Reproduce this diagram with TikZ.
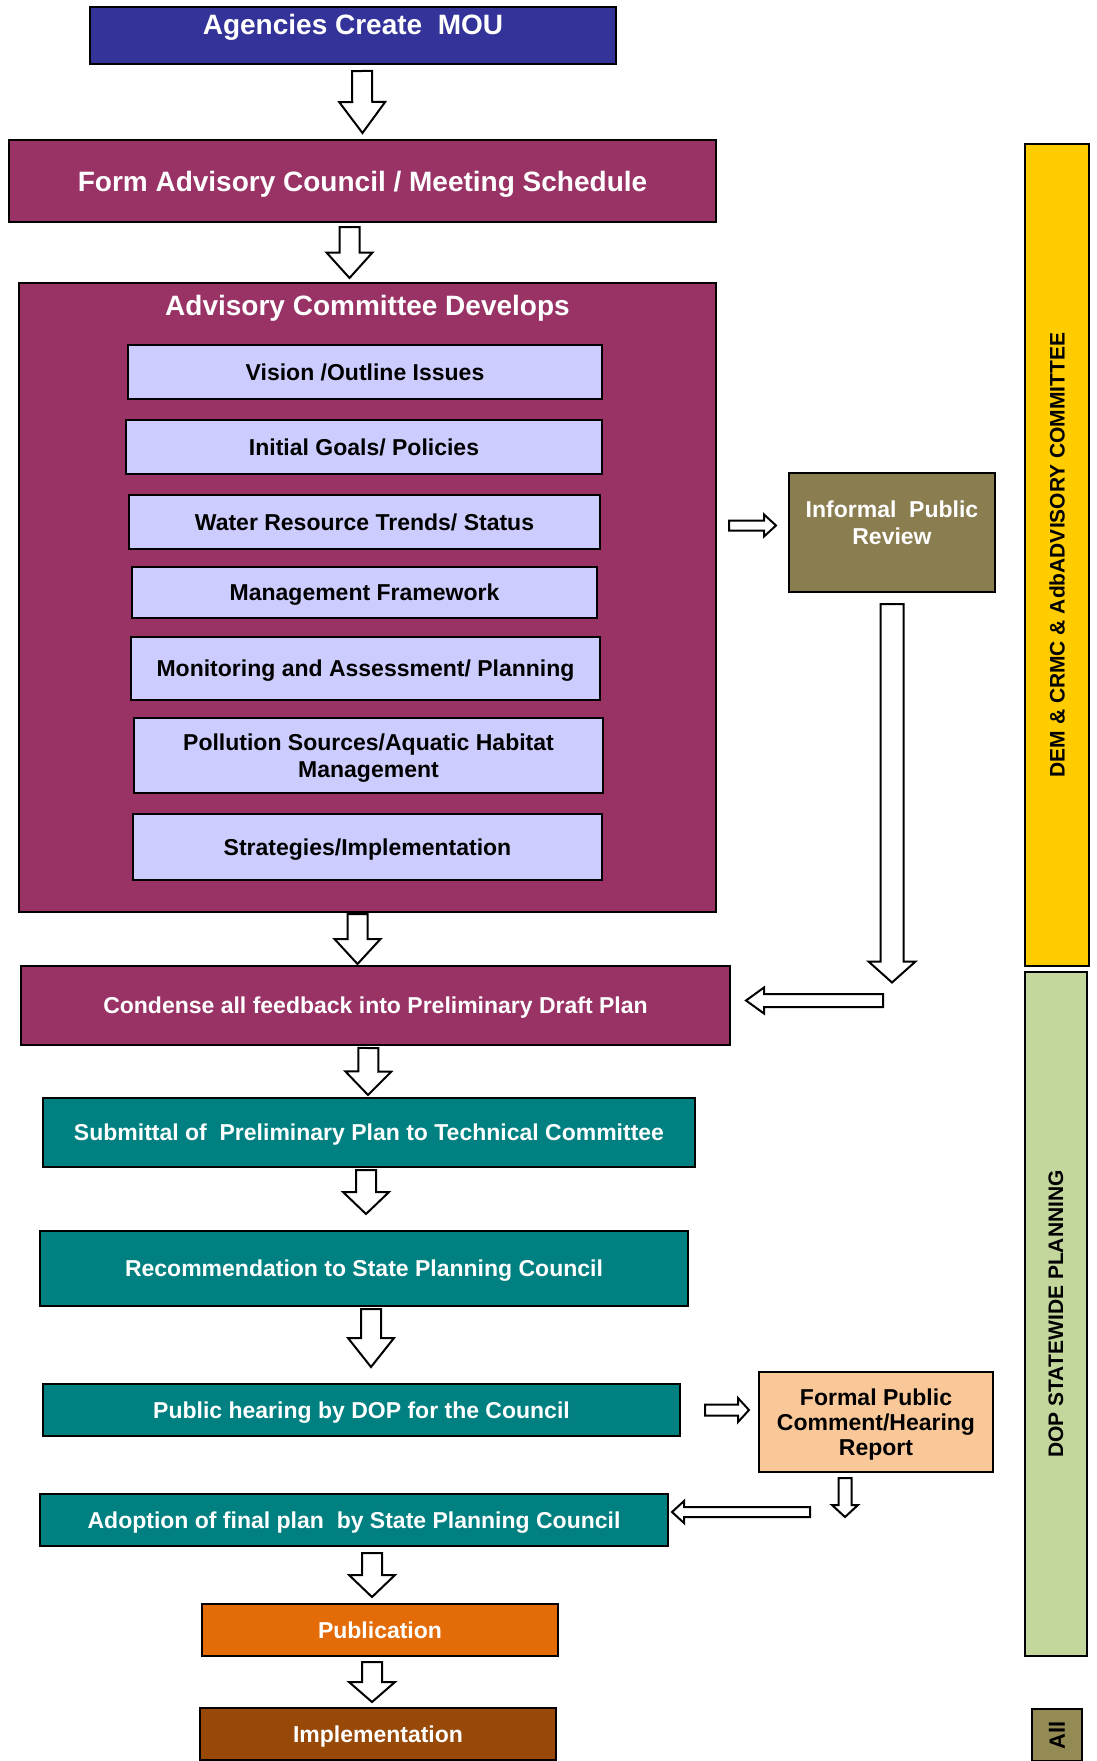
\documentclass[tikz,border=0pt]{standalone}
\usepackage{fontspec}
\setmainfont{Liberation Sans}
\usetikzlibrary{calc}
\definecolor{moublue}{HTML}{333399}
\definecolor{plum}{HTML}{993366}
\definecolor{lavender}{HTML}{CCCCFF}
\definecolor{reviewolive}{HTML}{8A7D50}
\definecolor{planteal}{HTML}{008080}
\definecolor{peach}{HTML}{FAC898}
\definecolor{puborange}{HTML}{E36C09}
\definecolor{implbrown}{HTML}{984807}
\definecolor{bandyellow}{HTML}{FFCC00}
\definecolor{bandgreen}{HTML}{C3D69B}
\definecolor{allolive}{HTML}{948A54}
\tikzset{%
  boxlabel/.style  = {align=center, inner sep=0pt, text=white, text depth=0pt,%
                      font=\fontsize{23}{27}\selectfont\bfseries},%
  headlabel/.style = {boxlabel, font=\fontsize{28}{32}\selectfont\bfseries},%
  stepbox/.style   = {boxlabel, shape=rectangle, draw, line width=2pt},%
  headbox/.style   = {stepbox, font=\fontsize{28}{32}\selectfont\bfseries},%
  topicbox/.style  = {stepbox, fill=lavender, text=black},%
  tealbox/.style   = {stepbox, fill=planteal},%
  sidebar/.style   = {align=center, inner sep=0pt, draw, line width=2pt,%
                      rotate=90, text=black,%
                      font=\fontsize{21}{25}\selectfont\bfseries},%
  arrow shaft/.store in = \bshaft,%
  arrow head/.store in  = \bhead,%
  arrow tip/.store in   = \btip,%
  arrow gap/.store in   = \bgap,%
  arrow shaft=10, arrow head=23, arrow tip={0.5*(\n1-2*\bgap)}, arrow gap=3,%
  alongarrow/.style = {shift={(\tikztostart)}, rotate=\n2},%
  blockarrow/.style = {draw, fill=white, line width=2pt,
    to path={let \p1 = ($(\tikztotarget)-(\tikztostart)$),
                 \n1 = {veclen(\x1,\y1)}, \n2 = {atan2(\y1,\x1)},
                 \n3 = {\n1-\bgap-(\btip)}, \n4 = {\n1-\bgap} in
      ([alongarrow]\bgap,-\bshaft) -- ([alongarrow]\n3,-\bshaft)
      -- ([alongarrow]\n3,-\bhead) -- ([alongarrow]\n4,0)
      -- ([alongarrow]\n3,\bhead) -- ([alongarrow]\n3,\bshaft)
      -- ([alongarrow]\bgap,\bshaft) -- cycle}}%
}
\begin{document}
\begin{tikzpicture}[x=1pt, y=-1pt]
  \useasboundingbox (0,0) rectangle (1097,1761);
  % main column
  \node[stepbox, fill=moublue, minimum width=526, minimum height=57] (mou) at (353,35.5) {};
  \node[headlabel] (moutext) at ([yshift=11pt]mou.center) {Agencies Create~ MOU};
  \node[headbox, fill=plum, minimum width=707, minimum height=82] (form) at (362.5,181)
    {Form Advisory Council / Meeting Schedule};
  \node[stepbox, fill=plum, minimum width=697, minimum height=629] (adv) at (367.5,597.5) {};
  \node[headlabel] (advtext) at ([yshift=-23pt]adv.north) {Advisory Committee Develops};
  \node[topicbox, minimum width=474, minimum height=54] (vision) at (365,372) {Vision /Outline Issues};
  \node[topicbox, minimum width=476, minimum height=54] (goals) at (364,447) {Initial Goals/ Policies};
  \node[topicbox, minimum width=471, minimum height=54] (trends) at (364.5,522) {Water Resource Trends/ Status};
  \node[topicbox, minimum width=465, minimum height=51] (frame) at (364.5,592.5) {Management Framework};
  \node[topicbox, minimum width=469, minimum height=63] (monitor) at (365.5,668.5)
    {Monitoring and Assessment/ Planning};
  \node[topicbox, minimum width=469, minimum height=75] (habitat) at (368.5,755.5)
    {Pollution Sources/Aquatic Habitat\\Management};
  \node[topicbox, minimum width=469, minimum height=66] (strat) at (367.5,847) {Strategies/Implementation};
  \node[stepbox, fill=plum, minimum width=709, minimum height=79] (cond) at (375.5,1005.5)
    {Condense all feedback into Preliminary Draft Plan};
  \node[tealbox, minimum width=652, minimum height=69] (sub) at (369,1132.5)
    {Submittal of~ Preliminary Plan to Technical Committee};
  \node[tealbox, minimum width=648, minimum height=75] (rec) at (364,1268.5)
    {Recommendation to State Planning Council};
  \node[tealbox, minimum width=637, minimum height=52] (hear) at (361.5,1410)
    {Public hearing by DOP for the Council};
  \node[tealbox, minimum width=628, minimum height=52] (adopt) at (354,1520)
    {Adoption of final plan~ by State Planning Council};
  \node[stepbox, fill=puborange, minimum width=356, minimum height=52] (publ) at (380,1630) {Publication};
  \node[stepbox, fill=implbrown, minimum width=356, minimum height=52] (impl) at (378,1734) {Implementation};
  % review boxes
  \node[stepbox, fill=reviewolive, minimum width=206, minimum height=119] (inf) at (892,532.5) {};
  \node[boxlabel] (inftext) at ([yshift=10pt]inf.center) {Informal~ Public\\Review};
  \node[stepbox, fill=peach, text=black, minimum width=234, minimum height=100,
        font=\fontsize{23}{25}\selectfont\bfseries] (formal) at (876,1422)
    {Formal Public\\Comment/Hearing\\Report};
  % side bands
  \node[sidebar, fill=bandyellow, minimum width=822, minimum height=64] (dem) at (1057,555)
    {DEM \& CRMC \& AdbADVISORY COMMITTEE};
  \node[sidebar, fill=bandgreen, minimum width=684, minimum height=62] (dop) at (1056,1314)
    {DOP STATEWIDE PLANNING};
  \node[sidebar, fill=allolive, minimum width=52, minimum height=50,
        font=\fontsize{22}{26}\selectfont\bfseries] (all) at (1057,1735) {All};
  % block arrows
  \coordinate (rv) at ([yshift=7pt]inf.west);
  \coordinate (fb) at (inf.south |- cond.east);
  \coordinate (fb2) at ($(formal.south |- adopt.east)+(-31pt,0pt)$);
  \draw[blockarrow, arrow gap=6] ([xshift=9pt]mou.south) to (form.north);
  \draw[blockarrow, arrow gap=4] ([xshift=-13pt]form.south) to ([xshift=-18pt]adv.north);
  \draw[blockarrow, arrow gap=1] ([xshift=-10pt]adv.south) to ([xshift=-18pt]cond.north);
  \draw[blockarrow, arrow gap=2] ([xshift=-7pt]cond.south) to ([xshift=-1pt]sub.north);
  \draw[blockarrow, arrow gap=2] ([xshift=-3pt]sub.south) to ([xshift=2pt,yshift=14pt]rec.north);
  \draw[blockarrow, arrow gap=2] ([xshift=7pt]rec.south) to ([xshift=9.5pt,yshift=14pt]hear.north);
  \draw[blockarrow, arrow gap=6] ([xshift=18pt]adopt.south) to ([xshift=-8pt]publ.north);
  \draw[blockarrow, arrow gap=5] ([xshift=-8pt]publ.south) to ([xshift=-6pt]impl.north);
  \draw[blockarrow, arrow gap=12, arrow shaft=5, arrow head=11, arrow tip=12] (adv.east |- rv) to (rv);
  \draw[blockarrow, arrow gap=11, arrow shaft=11.5, arrow head=23.5, arrow tip=21] (inf.south) to ([yshift=12pt]fb);
  \draw[blockarrow, arrow gap=0, arrow shaft=6.5, arrow head=13, arrow tip=18]
    ([xshift=-9pt,yshift=5pt]fb) to ([xshift=15pt,yshift=5pt]cond.east);
  \draw[blockarrow, arrow gap=9, arrow shaft=5.5, arrow head=12, arrow tip=11]
    ([xshift=15pt]hear.east) to (hear.east -| formal.west);
  \draw[blockarrow, arrow gap=5, arrow shaft=6.5, arrow head=13, arrow tip=12] (fb2 |- formal.south) to ([yshift=-2pt]fb2);
  \draw[blockarrow, arrow gap=3, arrow shaft=5, arrow head=11, arrow tip=12]
    ([xshift=-32pt,yshift=8pt]fb2) to ([yshift=8pt]adopt.east);
\end{tikzpicture}
\end{document}
